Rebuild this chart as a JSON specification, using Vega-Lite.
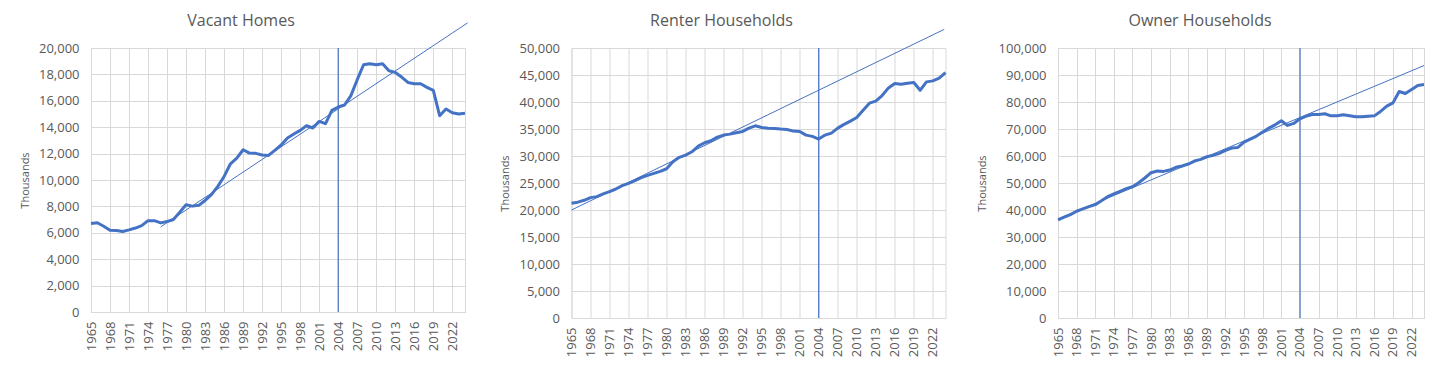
{
  "$schema": "https://vega.github.io/schema/vega-lite/v6.json",
  "padding": {"left": 18, "top": 12, "right": 5, "bottom": 5},
  "background": "white",
  "config": {
    "font": "Open Sans",
    "view": {"stroke": "#d9d9d9"},
    "axis": {"labelFont": "Open Sans", "labelFontSize": 13, "labelColor": "#595959", "titleFont": "Open Sans", "titleFontSize": 11, "titleFontWeight": "normal", "titleColor": "#595959", "gridColor": "#d9d9d9", "gridWidth": 1, "domainColor": "#d9d9d9", "ticks": false, "labelOverlap": false, "tickCount": 100},
    "axisY": {"domain": false, "labelPadding": 12, "titlePadding": 8},
    "axisX": {"labelAngle": -90, "labelPadding": 9, "title": null},
    "title": {"font": "Open Sans", "fontSize": 16, "fontWeight": "normal", "color": "#595959", "anchor": "middle", "frame": "group", "baseline": "alphabetic"}
  },
  "datasets": {
    "main": [
      {"year": 1965, "vacant": 6700, "renter": 21250, "owner": 36330},
      {"year": 1966, "vacant": 6760, "renter": 21450, "owner": 37320},
      {"year": 1967, "vacant": 6500, "renter": 21800, "owner": 38290},
      {"year": 1968, "vacant": 6200, "renter": 22290, "owner": 39540},
      {"year": 1969, "vacant": 6180, "renter": 22480, "owner": 40390},
      {"year": 1970, "vacant": 6100, "renter": 22970, "owner": 41240},
      {"year": 1971, "vacant": 6220, "renter": 23400, "owner": 41980},
      {"year": 1972, "vacant": 6360, "renter": 23890, "owner": 43460},
      {"year": 1973, "vacant": 6540, "renter": 24500, "owner": 44940},
      {"year": 1974, "vacant": 6920, "renter": 24940, "owner": 45930},
      {"year": 1975, "vacant": 6920, "renter": 25430, "owner": 46930},
      {"year": 1976, "vacant": 6750, "renter": 25980, "owner": 47890},
      {"year": 1977, "vacant": 6850, "renter": 26420, "owner": 48630},
      {"year": 1978, "vacant": 7010, "renter": 26790, "owner": 50110},
      {"year": 1979, "vacant": 7550, "renter": 27160, "owner": 51850},
      {"year": 1980, "vacant": 8120, "renter": 27640, "owner": 53810},
      {"year": 1981, "vacant": 8020, "renter": 28940, "owner": 54430},
      {"year": 1982, "vacant": 8080, "renter": 29750, "owner": 54300},
      {"year": 1983, "vacant": 8450, "renter": 30170, "owner": 54800},
      {"year": 1984, "vacant": 8890, "renter": 30780, "owner": 55800},
      {"year": 1985, "vacant": 9520, "renter": 31840, "owner": 56280},
      {"year": 1986, "vacant": 10270, "renter": 32450, "owner": 57020},
      {"year": 1987, "vacant": 11230, "renter": 32820, "owner": 58130},
      {"year": 1988, "vacant": 11660, "renter": 33500, "owner": 58760},
      {"year": 1989, "vacant": 12290, "renter": 33870, "owner": 59720},
      {"year": 1990, "vacant": 12040, "renter": 34050, "owner": 60230},
      {"year": 1991, "vacant": 12020, "renter": 34300, "owner": 60970},
      {"year": 1992, "vacant": 11900, "renter": 34550, "owner": 62080},
      {"year": 1993, "vacant": 11860, "renter": 35160, "owner": 62930},
      {"year": 1994, "vacant": 12250, "renter": 35590, "owner": 63190},
      {"year": 1995, "vacant": 12650, "renter": 35290, "owner": 65150},
      {"year": 1996, "vacant": 13180, "renter": 35150, "owner": 66260},
      {"year": 1997, "vacant": 13480, "renter": 35100, "owner": 67370},
      {"year": 1998, "vacant": 13760, "renter": 34980, "owner": 68850},
      {"year": 1999, "vacant": 14110, "renter": 34920, "owner": 70330},
      {"year": 2000, "vacant": 13940, "renter": 34610, "owner": 71550},
      {"year": 2001, "vacant": 14440, "renter": 34550, "owner": 73030},
      {"year": 2002, "vacant": 14270, "renter": 33870, "owner": 71320},
      {"year": 2003, "vacant": 15270, "renter": 33630, "owner": 72060},
      {"year": 2004, "vacant": 15530, "renter": 33130, "owner": 73770},
      {"year": 2005, "vacant": 15680, "renter": 33870, "owner": 74760},
      {"year": 2006, "vacant": 16390, "renter": 34240, "owner": 75390},
      {"year": 2007, "vacant": 17600, "renter": 35160, "owner": 75390},
      {"year": 2008, "vacant": 18730, "renter": 35850, "owner": 75640},
      {"year": 2009, "vacant": 18810, "renter": 36460, "owner": 74870},
      {"year": 2010, "vacant": 18730, "renter": 37140, "owner": 74870},
      {"year": 2011, "vacant": 18810, "renter": 38490, "owner": 75250},
      {"year": 2012, "vacant": 18280, "renter": 39780, "owner": 74870},
      {"year": 2013, "vacant": 18150, "renter": 40150, "owner": 74500},
      {"year": 2014, "vacant": 17800, "renter": 41200, "owner": 74500},
      {"year": 2015, "vacant": 17390, "renter": 42610, "owner": 74760},
      {"year": 2016, "vacant": 17290, "renter": 43420, "owner": 74870},
      {"year": 2017, "vacant": 17290, "renter": 43290, "owner": 76500},
      {"year": 2018, "vacant": 17020, "renter": 43480, "owner": 78450},
      {"year": 2019, "vacant": 16790, "renter": 43610, "owner": 79680},
      {"year": 2020, "vacant": 14870, "renter": 42180, "owner": 83890},
      {"year": 2021, "vacant": 15380, "renter": 43730, "owner": 83150},
      {"year": 2022, "vacant": 15100, "renter": 43910, "owner": 84630},
      {"year": 2023, "vacant": 15000, "renter": 44400, "owner": 86110},
      {"year": 2024, "vacant": 15050, "renter": 45450, "owner": 86480}
    ],
    "trendVacant": [{"year": 1976, "value": 6450}, {"year": 2024.4, "value": 21900}],
    "trendRenter": [{"year": 1965, "value": 20000}, {"year": 2023.8, "value": 53450}],
    "trendOwner": [{"year": 1965, "value": 36700}, {"year": 2024, "value": 93500}],
    "marker": [{"year": 2004}]
  },
  "spacing": 27.5,
  "hconcat": [
    {
      "width": 374, "height": 264,
      "title": {"text": "Vacant Homes", "dx": -37, "offset": -8.1},
      "layer": [
        {"data": {"name": "main"}, "mark": {"type": "line", "color": "#4472C4", "strokeWidth": 3, "strokeJoin": "round"},
         "encoding": {
           "x": {"field": "year", "type": "quantitative", "scale": {"domain": [1965, 2024], "nice": false, "zero": false},
                 "axis": {"values": [1965,1968,1971,1974,1977,1980,1983,1986,1989,1992,1995,1998,2001,2004,2007,2010,2013,2016,2019,2022], "format": "d"}},
           "y": {"field": "vacant", "type": "quantitative", "scale": {"domain": [0, 20000], "nice": false},
                 "axis": {"title": "Thousands", "values": [0,2000,4000,6000,8000,10000,12000,14000,16000,18000,20000], "format": ",.0f"}}
         }},
        {"data": {"name": "trendVacant"}, "mark": {"type": "line", "color": "#4472C4", "strokeWidth": 1},
         "encoding": {"x": {"field": "year", "type": "quantitative"}, "y": {"field": "value", "type": "quantitative"}}},
        {"data": {"name": "marker"}, "mark": {"type": "rule", "color": "#4472C4", "strokeWidth": 1.2},
         "encoding": {"x": {"field": "year", "type": "quantitative"}}}
      ]
    },
    {
      "width": 374, "height": 270,
      "title": {"text": "Renter Households", "dx": -37, "offset": -1.4},
      "layer": [
        {"data": {"name": "main"}, "mark": {"type": "line", "color": "#4472C4", "strokeWidth": 3, "strokeJoin": "round"},
         "encoding": {
           "x": {"field": "year", "type": "quantitative", "scale": {"domain": [1965, 2024], "nice": false, "zero": false},
                 "axis": {"values": [1965,1968,1971,1974,1977,1980,1983,1986,1989,1992,1995,1998,2001,2004,2007,2010,2013,2016,2019,2022], "format": "d"}},
           "y": {"field": "renter", "type": "quantitative", "scale": {"domain": [0, 50000], "nice": false},
                 "axis": {"title": "Thousands", "values": [0,5000,10000,15000,20000,25000,30000,35000,40000,45000,50000], "format": ",.0f"}}
         }},
        {"data": {"name": "trendRenter"}, "mark": {"type": "line", "color": "#4472C4", "strokeWidth": 1},
         "encoding": {"x": {"field": "year", "type": "quantitative"}, "y": {"field": "value", "type": "quantitative"}}},
        {"data": {"name": "marker"}, "mark": {"type": "rule", "color": "#4472C4", "strokeWidth": 1.2},
         "encoding": {"x": {"field": "year", "type": "quantitative"}}}
      ]
    },
    {
      "width": 366, "height": 270,
      "title": {"text": "Owner Households", "dx": -41, "offset": 13.5},
      "layer": [
        {"data": {"name": "main"}, "mark": {"type": "line", "color": "#4472C4", "strokeWidth": 3, "strokeJoin": "round"},
         "encoding": {
           "x": {"field": "year", "type": "quantitative", "scale": {"domain": [1965, 2024], "nice": false, "zero": false},
                 "axis": {"values": [1965,1968,1971,1974,1977,1980,1983,1986,1989,1992,1995,1998,2001,2004,2007,2010,2013,2016,2019,2022], "format": "d"}},
           "y": {"field": "owner", "type": "quantitative", "scale": {"domain": [0, 100000], "nice": false},
                 "axis": {"title": "Thousands", "titlePadding": 11, "values": [0,10000,20000,30000,40000,50000,60000,70000,80000,90000,100000], "format": ",.0f"}}
         }},
        {"data": {"name": "trendOwner"}, "mark": {"type": "line", "color": "#4472C4", "strokeWidth": 1},
         "encoding": {"x": {"field": "year", "type": "quantitative"}, "y": {"field": "value", "type": "quantitative"}}},
        {"data": {"name": "marker"}, "mark": {"type": "rule", "color": "#4472C4", "strokeWidth": 1.2},
         "encoding": {"x": {"field": "year", "type": "quantitative"}}}
      ]
    }
  ]
}
